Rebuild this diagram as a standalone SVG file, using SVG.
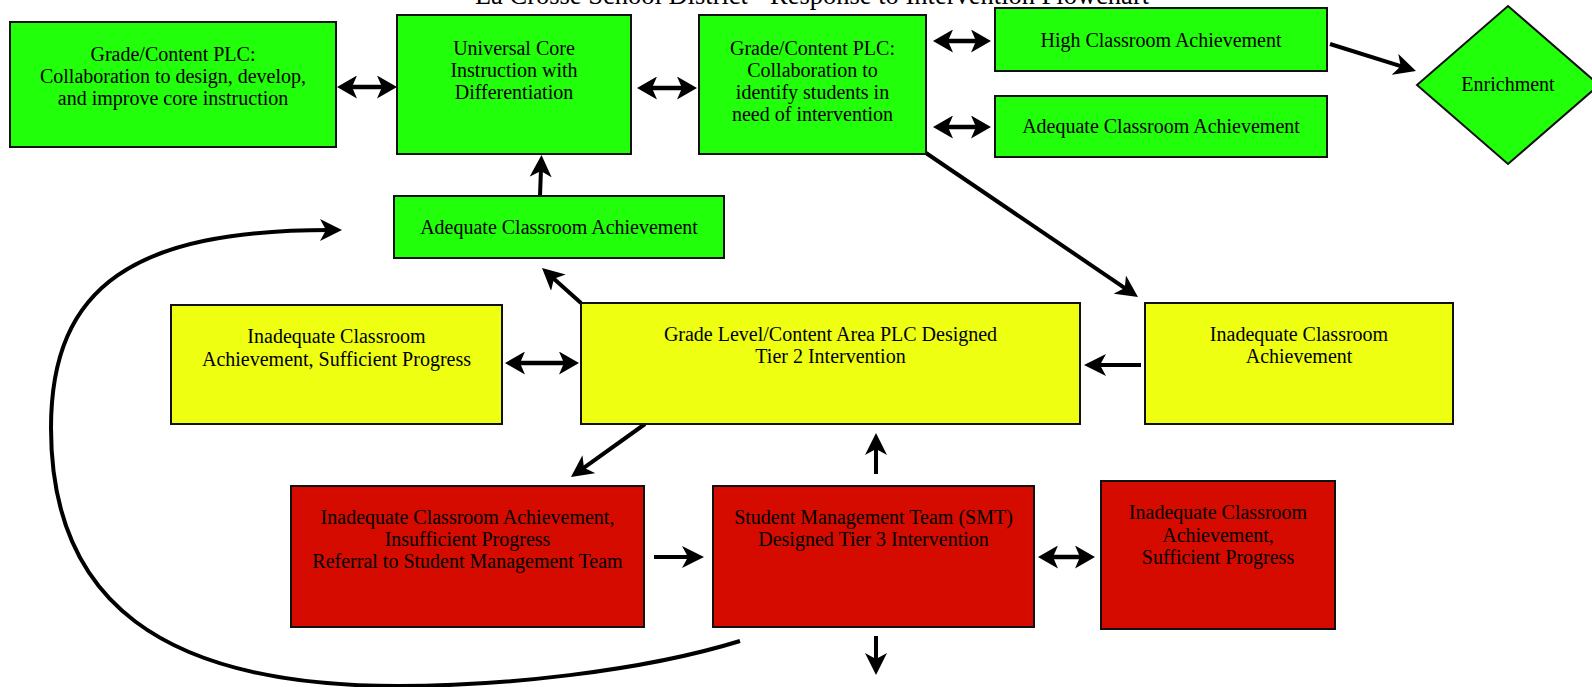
<svg xmlns="http://www.w3.org/2000/svg" width="1592" height="687" viewBox="0 0 1592 687">
<style>
text{font-family:"Liberation Serif","Times New Roman",serif;font-size:20px;fill:#000;text-anchor:middle}
.title{font-size:26.5px}
.box{stroke:#111;stroke-width:2}
.g{fill:#22ff0a}
.y{fill:#eeff12}
.r{fill:#d60b00}
.sgl{stroke:#000;stroke-width:4;fill:none;marker-end:url(#ah)}
.dbl{stroke:#000;stroke-width:4.5;fill:none;marker-start:url(#dh);marker-end:url(#dh)}
</style>
<defs>
<marker id="ah" viewBox="0 0 22 22" refX="11" refY="11" markerWidth="22" markerHeight="22" markerUnits="userSpaceOnUse" orient="auto-start-reverse"><path d="M0,0 L22,11 L0,22 L6,11 Z" fill="#000"/></marker>
<marker id="dh" viewBox="0 0 20 23" refX="10" refY="11.5" markerWidth="20" markerHeight="23" markerUnits="userSpaceOnUse" orient="auto-start-reverse"><path d="M0,0 L20,11.5 L0,23 L5,11.5 Z" fill="#000"/></marker>
</defs>
<rect width="1592" height="687" fill="#fff"/>
<text class="title" x="812" y="4">La Crosse School District - Response to Intervention Flowchart</text>

<g id="connectors">
<line class="dbl" x1="347" y1="87" x2="387" y2="87"/>
<line class="dbl" x1="647" y1="88" x2="687" y2="88"/>
<line class="dbl" x1="943" y1="41" x2="981" y2="41"/>
<line class="dbl" x1="943" y1="127" x2="981" y2="127"/>
<line class="dbl" x1="515" y1="363" x2="569" y2="363"/>
<line class="dbl" x1="1048" y1="557" x2="1085" y2="557"/>
<line class="sgl" x1="1330" y1="44" x2="1405.5" y2="67.7"/>
<line class="sgl" x1="926" y1="153" x2="1128.9" y2="290.8"/>
<line class="sgl" x1="540" y1="196" x2="541.1" y2="166"/>
<line class="sgl" x1="581" y1="303" x2="550.2" y2="275.4"/>
<line class="sgl" x1="1141" y1="365" x2="1095" y2="365"/>
<line class="sgl" x1="645" y1="424" x2="579.9" y2="470.6"/>
<line class="sgl" x1="654" y1="557" x2="693" y2="557"/>
<line class="sgl" x1="876" y1="474" x2="876" y2="444"/>
<line class="sgl" x1="876" y1="636" x2="876" y2="664"/>
<path class="sgl" d="M740,641 C640,672 500,686 398,686 C160,686 51,600 51,428 C51,285 135,230 331,230"/>
</g>

<g id="n-plc-design">
<rect class="box g" x="10" y="22" width="326" height="125"/>
<text x="173" y="60.5">Grade/Content PLC:</text>
<text x="173" y="82.5">Collaboration to design, develop,</text>
<text x="173" y="104.5">and improve core instruction</text>
</g>

<g id="n-core">
<rect class="box g" x="397" y="15" width="234" height="139"/>
<text x="514" y="54.5">Universal Core</text>
<text x="514" y="76.5">Instruction with</text>
<text x="514" y="98.5">Differentiation</text>
</g>

<g id="n-plc-identify">
<rect class="box g" x="699" y="15" width="227" height="139"/>
<text x="812.5" y="54.5">Grade/Content PLC:</text>
<text x="812.5" y="76.5">Collaboration to</text>
<text x="812.5" y="98.5">identify students in</text>
<text x="812.5" y="120.5">need of intervention</text>
</g>

<g id="n-high">
<rect class="box g" x="995" y="8" width="332" height="63"/>
<text x="1161" y="46.5">High Classroom Achievement</text>
</g>

<g id="n-adequate-top">
<rect class="box g" x="995" y="96" width="332" height="61"/>
<text x="1161" y="133">Adequate Classroom Achievement</text>
</g>

<g id="n-enrichment">
<polygon class="box g" points="1508,6 1599,85 1508,164 1417,85"/>
<text x="1508" y="91">Enrichment</text>
</g>

<g id="n-adequate-mid">
<rect class="box g" x="394" y="196" width="330" height="62"/>
<text x="559" y="234">Adequate Classroom Achievement</text>
</g>

<g id="n-yellow-left">
<rect class="box y" x="171" y="305" width="331" height="119"/>
<text x="336.5" y="343">Inadequate Classroom</text>
<text x="336.5" y="365.5">Achievement, Sufficient Progress</text>
</g>

<g id="n-tier2">
<rect class="box y" x="581" y="303" width="499" height="121"/>
<text x="830.5" y="340.7">Grade Level/Content Area PLC Designed</text>
<text x="830.5" y="362.7">Tier 2 Intervention</text>
</g>

<g id="n-yellow-right">
<rect class="box y" x="1145" y="303" width="308" height="121"/>
<text x="1299" y="340.7">Inadequate Classroom</text>
<text x="1299" y="362.7">Achievement</text>
</g>

<g id="n-red-left">
<rect class="box r" x="291" y="486" width="353" height="141"/>
<text x="467.5" y="524">Inadequate Classroom Achievement,</text>
<text x="467.5" y="546">Insufficient Progress</text>
<text x="467.5" y="568">Referral to Student Management Team</text>
</g>

<g id="n-smt">
<rect class="box r" x="713" y="486" width="321" height="141"/>
<text x="873.5" y="524">Student Management Team (SMT)</text>
<text x="873.5" y="546">Designed Tier 3 Intervention</text>
</g>

<g id="n-red-right">
<rect class="box r" x="1101" y="481" width="234" height="148"/>
<text x="1218" y="519.3">Inadequate Classroom</text>
<text x="1218" y="541.5">Achievement,</text>
<text x="1218" y="563.5">Sufficient Progress</text>
</g>
</svg>
